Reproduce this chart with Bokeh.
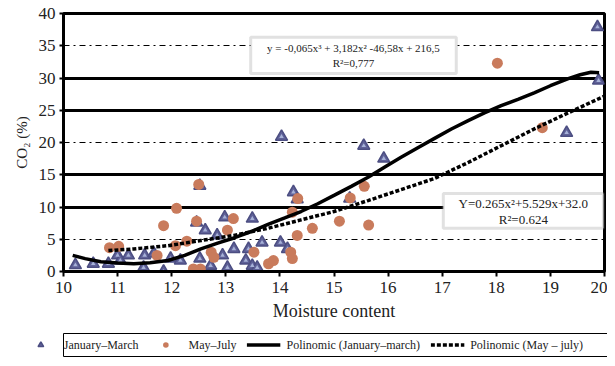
from bokeh.plotting import figure
from bokeh.layouts import column
from bokeh.models import (FixedTicker, Grid, Legend, LegendItem, Label, BoxAnnotation)
from bokeh.embed import file_html
from bokeh.resources import INLINE

FONT = "Liberation Serif"

# ---- data ----
jan_x = [10.22, 10.55, 10.83, 11.0, 11.05, 11.2, 11.48, 11.5, 11.67, 11.85, 11.98, 12.16, 12.46,
         12.52, 12.52, 12.62, 12.72, 12.84, 12.98, 12.94, 13.03, 13.15, 13.37, 13.42, 13.49,
         13.49, 13.58, 13.67, 14.01, 14.03, 14.14, 14.25, 14.32, 15.29, 15.55, 15.92, 19.3,
         19.87, 19.89]
jan_y = [1.0, 1.2, 1.2, 2.5, 1.7, 2.5, 0.6, 2.5, 2.8, 0.0, 2.0, 1.7, 7.6,
         13.3, 2.0, 6.4, 0.9, 5.6, 8.4, 2.5, 0.6, 3.5, 1.7, 3.5, 8.2,
         0.9, 0.6, 4.5, 4.5, 20.9, 3.5, 12.3, 11.2, 11.3, 19.5, 17.5, 21.5,
         37.9, 29.6]

may_x = [10.85, 11.02, 11.73, 11.85, 12.09, 12.07, 12.28, 12.46, 12.5, 12.4, 12.53, 12.73,
         12.78, 13.03, 13.14, 13.52, 13.79, 13.88, 14.2, 14.23, 14.23, 14.32, 14.33, 14.6,
         15.1, 15.3, 15.56, 15.64, 18.02, 18.85]
may_y = [3.7, 3.9, 2.5, 7.1, 9.8, 4.0, 4.7, 7.8, 13.5, 0.4, 0.4, 3.0,
         2.2, 6.4, 8.2, 3.0, 1.2, 1.7, 3.0, 2.0, 9.2, 5.6, 11.3, 6.7,
         7.8, 11.4, 13.2, 7.2, 32.3, 22.3]

fit_jan_x = [10.17, 10.4, 10.69, 11.0, 11.3, 11.6, 11.93, 12.24, 12.54, 12.85, 13.15, 13.47,
             13.78, 14.09, 14.39, 14.7, 15.0, 15.32, 15.63, 15.94, 16.24, 16.55, 16.85, 17.17,
             17.48, 17.78, 18.09, 18.4, 18.7, 19.0, 19.33, 19.55, 19.75, 19.9]
fit_jan_y = [2.5, 2.0, 1.5, 1.3, 1.2, 1.35, 1.7, 2.5, 3.5, 4.4, 5.2, 6.2,
             7.3, 8.3, 9.3, 10.5, 11.8, 13.2, 14.6, 16.2, 17.7, 19.2, 20.6, 22.1,
             23.4, 24.6, 25.7, 26.7, 27.7, 28.8, 29.9, 30.5, 30.9, 30.8]

fit_may_x = [10.83, 11.3, 11.93, 12.54, 13.15, 13.78, 14.39, 15.0, 15.63, 16.24, 16.85, 17.48,
             18.09, 18.7, 19.33, 20.0]
fit_may_y = [3.25, 3.5, 4.0, 4.8, 5.6, 6.7, 8.0, 9.3, 11.0, 12.7, 14.4, 16.9,
             19.5, 22.1, 24.6, 27.2]

x_ticks = [10, 11, 12, 13, 14, 15, 16, 17, 18, 19, 20]
y_ticks = [0, 5, 10, 15, 20, 25, 30, 35, 40]
solid_grid = [10, 15, 25, 30]
dash_grid = [5, 20, 35]

legend_labels = ["January\u2013March", "May\u2013July", "Polinomic (January\u2013march)",
                 "Polinomic (May \u2013 july)"]

eq1 = "y = -0,065x\u00b3 + 3,182x\u00b2 -46,58x + 216,5"
r1 = "R\u00b2=0,777"
eq2 = "Y=0.265x\u00b2+5.529x+32.0"
r2 = "R\u00b2=0.624"

TRI_COLOR = "#5F6198"
TRI_EDGE = "#4C4E82"
TRI_INNER = "#A7B2D8"
CIRC_COLOR = "#C97B5C"

p = figure(frame_width=541, frame_height=258, x_range=(10, 20), y_range=(0, 40),
           output_backend="svg", toolbar_location=None,
           min_border_left=63, min_border_right=3, min_border_top=13, min_border_bottom=62)
p.background_fill_color = "white"
p.border_fill_color = "white"
p.outline_line_color = "black"
p.outline_line_width = 3

p.xgrid.visible = False
p.ygrid.visible = False
g1 = Grid(dimension=1, ticker=FixedTicker(ticks=solid_grid), grid_line_color="black",
          grid_line_width=3)
g2 = Grid(dimension=1, ticker=FixedTicker(ticks=dash_grid), grid_line_color="black",
          grid_line_width=1, grid_line_dash="dashdot")
p.add_layout(g1)
p.add_layout(g2)

p.xaxis.ticker = FixedTicker(ticks=x_ticks)
p.yaxis.ticker = FixedTicker(ticks=y_ticks)
for ax in (p.xaxis[0], p.yaxis[0]):
    ax.axis_line_width = 3
    ax.axis_line_color = "black"
    ax.major_tick_line_color = "black"
    ax.major_tick_line_width = 2
    ax.major_tick_in = 0
    ax.minor_tick_line_color = None
    ax.major_label_text_font = FONT
    ax.major_label_text_color = "#222222"
    ax.axis_label_text_font = FONT
    ax.axis_label_text_font_style = "normal"
    ax.axis_label_text_color = "#222222"
p.xaxis.major_tick_out = 5
p.yaxis.major_tick_out = 4
p.xaxis.major_label_text_font_size = "17px"
p.yaxis.major_label_text_font_size = "17px"
p.xaxis.axis_label = "Moisture content"
p.xaxis.axis_label_text_font_size = "18px"
p.xaxis.axis_label_standoff = 5
p.yaxis.axis_label = "CO\u2082 (%)"
p.yaxis.axis_label_text_font_size = "15px"
p.yaxis.axis_label_standoff = 6
p.xaxis.major_label_standoff = 5
p.yaxis.major_label_standoff = 4

tri_style = dict(marker="triangle", size=12, fill_color=TRI_COLOR, line_color=TRI_EDGE,
                 line_width=1.5)
circ_style = dict(marker="circle", size=11, fill_color=CIRC_COLOR, line_color=None)
l1_style = dict(line_color="black", line_width=3.5)
l2_style = dict(line_color="black", line_width=3.5, line_dash="4 2")

p.scatter(jan_x, jan_y, **tri_style)
p.scatter(jan_x, jan_y, marker="triangle", size=4.5, fill_color=TRI_INNER, line_color=None)
p.scatter(may_x, may_y, **circ_style)
p.line(fit_jan_x, fit_jan_y, **l1_style)
p.line(fit_may_x, fit_may_y, **l2_style)

# equation boxes
box1 = BoxAnnotation(left=13.46, right=17.26, bottom=30.7, top=36.3, fill_color="white",
                     fill_alpha=1, line_color="#9a9a9a", line_width=3, level="overlay")
box2 = BoxAnnotation(left=17.02, right=19.98, bottom=6.7, top=12.1, fill_color="white",
                     fill_alpha=1, line_color="#9a9a9a", line_width=3, level="overlay")
p.add_layout(box1)
p.add_layout(box2)
for txt, x, y, fs in [(eq1, 15.36, 34.6, "11px"), (r1, 15.36, 32.4, "11px"),
                      (eq2, 18.5, 10.5, "13px"), (r2, 18.5, 8.1, "13px")]:
    p.add_layout(Label(x=x, y=y, text=txt, text_font=FONT, text_font_size=fs,
                       text_align="center", text_baseline="middle", text_color="#222222",
                       level="overlay"))

# legend strip (separate figure below the chart); its renderers hold the series'
# first values placed outside the strip's visible range so only legend glyphs show
q = figure(frame_width=575, frame_height=23, x_range=(0, 1), y_range=(0, 1),
           output_backend="svg", toolbar_location=None, x_axis_location=None,
           y_axis_location=None, min_border_left=28, min_border_right=4,
           min_border_top=0, min_border_bottom=2)
q.xgrid.visible = False
q.ygrid.visible = False
q.outline_line_color = "black"
q.outline_line_width = 1
lr1 = q.scatter(jan_x[:1], jan_y[:1], **tri_style)
lr2 = q.scatter(may_x[:1], may_y[:1], **circ_style)
lr3 = q.line(fit_jan_x[:2], fit_jan_y[:2], **l1_style)
lr4 = q.line(fit_may_x[:2], fit_may_y[:2], **l2_style)
legend = Legend(items=[LegendItem(label=lab, renderers=[r])
                       for lab, r in zip(legend_labels, [lr1, lr2, lr3, lr4])],
                orientation="horizontal", location="center", label_text_font=FONT,
                label_text_font_size="12px", label_text_color="#222222", glyph_width=34,
                glyph_height=14, label_standoff=6, spacing=10, padding=2, margin=0,
                border_line_color=None, background_fill_alpha=0, label_height=14)
q.add_layout(legend, "center")

open("out.html", "w").write(file_html(column(p, q, spacing=0), INLINE))
